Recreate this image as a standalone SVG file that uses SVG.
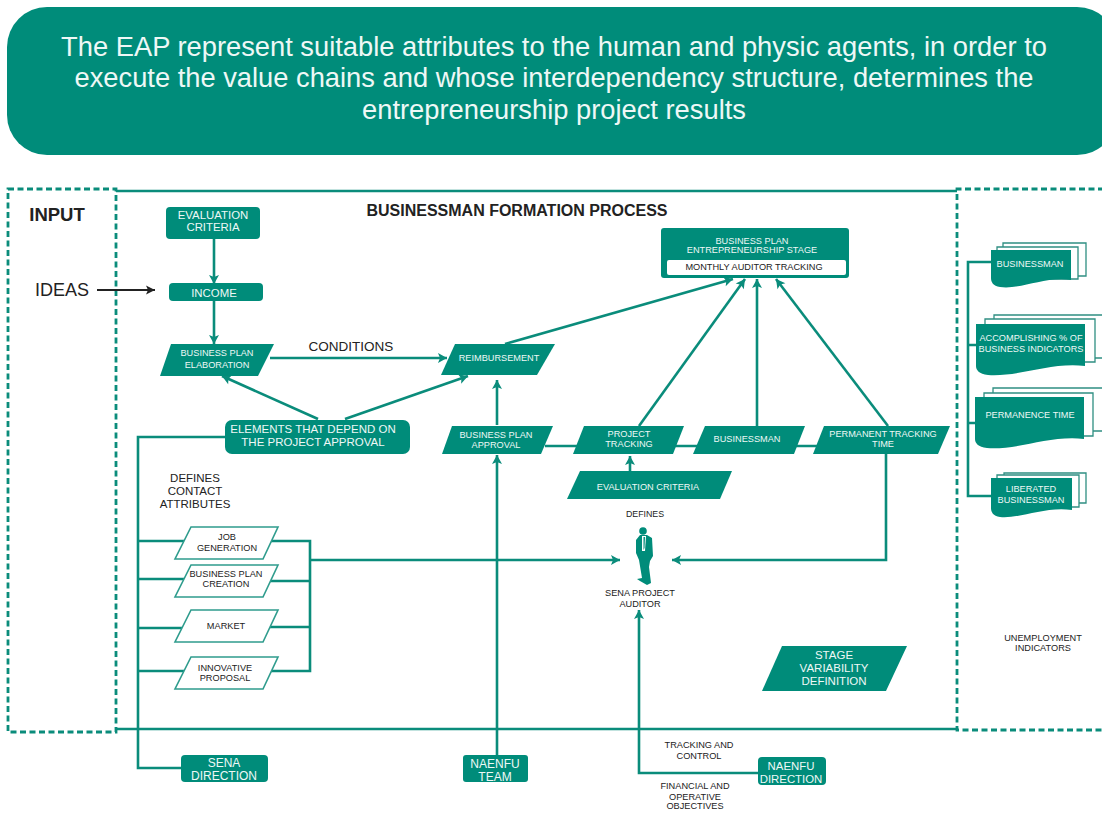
<svg xmlns="http://www.w3.org/2000/svg" width="1102" height="813" viewBox="0 0 1102 813">
<style>
text{font-family:"Liberation Sans",Arial,sans-serif;text-anchor:middle;font-size:9.2px}
.f{fill:#008c7a}
.w{fill:#eef8f6}
.k{fill:#222}
.l{fill:none;stroke:#0a8c7b;stroke-width:2.6}
.d{fill:none;stroke:#0a8c7b;stroke-width:2.8;stroke-dasharray:6 3.5}
.a{marker-end:url(#ah)}
.o{fill:#fff;stroke:#2f9c8d;stroke-width:1.6}
.s{fill:#fff;stroke:#2f8f82;stroke-width:1.3}
.b{font-size:27.3px}
.m{font-size:11.4px}
.n{font-size:12px}
</style>
<defs>
<marker id="ah" markerUnits="userSpaceOnUse" markerWidth="12" markerHeight="12" refX="10" refY="6" orient="auto"><path d="M1 1 L10 6 L1 11 L3 6Z" fill="#0a8c7b"/></marker>
<marker id="bh" markerUnits="userSpaceOnUse" markerWidth="12" markerHeight="12" refX="10" refY="6" orient="auto"><path d="M1 1.5 L10 6 L1 10.5 L3 6Z" fill="#222"/></marker>
</defs>
<rect width="1102" height="813" fill="#fff"/>
<g id="banner">
<rect x="7" y="7" width="1110" height="148" rx="40" class="f"/>
<text x="554" y="56" class="w b">The EAP represent suitable attributes to the human and physic agents, in order to</text>
<text x="554" y="87" class="w b">execute the value chains and whose interdependency structure, determines the</text>
<text x="554" y="119" class="w b">entrepreneurship project results</text>
</g>
<g id="frames">
<rect x="8" y="189" width="108" height="543" class="d"/>
<path d="M116 191H957M116 729H957" class="l"/>
<path d="M1104 189H957V730H1104" class="d"/>
</g>
<g id="connectors">
<path class="l a" d="M214 238V284"/>
<path class="l a" d="M214 301V344"/>
<path d="M97 290H155" fill="none" stroke="#222" stroke-width="2" marker-end="url(#bh)"/>
<path class="l a" d="M270 358H447"/>
<path class="l a" d="M318 419L222 376"/>
<path class="l a" d="M345 419L468 376"/>
<path class="l" d="M226 437H138V768H181"/>
<path class="l" d="M138 541H188M138 579H188M138 628H188M138 671H188"/>
<path class="l" d="M268 541H310V671H268M270 581H310M270 627H310"/>
<path class="l a" d="M310 560H620"/>
<path class="l a" d="M505 344L733 279"/>
<path class="l a" d="M639 426L745 279"/>
<path class="l a" d="M757 426V279"/>
<path class="l a" d="M888 426L776 279"/>
<path class="l a" d="M497 425V380"/>
<path class="l a" d="M497 755V455"/>
<path class="l" d="M545 446H580M675 446H700M795 446H820"/>
<path class="l a" d="M630 471V456"/>
<path class="l a" d="M886 453V560H672"/>
<path class="l a" d="M758 773H639V610"/>
<path class="l" d="M991 262H968V496H991M968 345H976M968 423H975"/>
</g>
<g id="evaluation-criteria">
<rect x="166" y="207" width="94" height="32" rx="4" class="f"/>
<text x="213" y="219" class="w m">EVALUATION</text><text x="213" y="231" class="w m">CRITERIA</text>
</g>
<g id="income">
<rect x="169" y="283" width="94" height="18" rx="4" class="f"/>
<text x="214" y="297" class="w m">INCOME</text>
</g>
<g id="business-plan-elaboration">
<path d="M171 344H274L258 376H160Z" class="f"/>
<text x="217" y="356" class="w">BUSINESS PLAN</text><text x="217" y="368" class="w">ELABORATION</text>
</g>
<g id="reimbursement">
<path d="M455 344H555L537 375H441Z" class="f"/>
<text x="499" y="361" class="w">REIMBURSEMENT</text>
</g>
<g id="elements">
<rect x="225" y="420" width="185" height="34" rx="7" class="f"/>
<text x="313" y="433" font-size="11.5" style="font-size:11.5px" class="w">ELEMENTS THAT DEPEND ON</text><text x="313" y="446" style="font-size:11.5px" class="w">THE PROJECT APPROVAL</text>
</g>
<g id="business-plan-approval">
<path d="M452 426H553L541 454H442Z" class="f"/>
<text x="496" y="438" class="w">BUSINESS PLAN</text><text x="496" y="448" class="w">APPROVAL</text>
</g>
<g id="project-tracking">
<path d="M584 426H684L673 454H573Z" class="f"/>
<text x="629" y="437" class="w">PROJECT</text><text x="629" y="447" class="w">TRACKING</text>
</g>
<g id="businessman">
<path d="M705 426H805L794 454H693Z" class="f"/>
<text x="747" y="442" class="w">BUSINESSMAN</text>
</g>
<g id="permanent-tracking">
<path d="M824 426H950L938 454H813Z" class="f"/>
<text x="883" y="437" class="w">PERMANENT TRACKING</text><text x="883" y="447" class="w">TIME</text>
</g>
<g id="evaluation-criteria-2">
<path d="M580 471H732L720 499H567Z" class="f"/>
<text x="648" y="490" class="w">EVALUATION CRITERIA</text>
</g>
<g id="stage">
<rect x="661" y="228" width="188" height="50" rx="3" class="f"/>
<rect x="667" y="260" width="179" height="15" rx="2" fill="#fff"/>
<text x="752" y="244" class="w">BUSINESS PLAN</text><text x="752" y="253" class="w">ENTREPRENEURSHIP STAGE</text>
<text x="754" y="270" class="k">MONTHLY AUDITOR TRACKING</text>
</g>
<g id="job-generation">
<path d="M191 527H278L263 559H175Z" class="o"/>
<text x="227" y="540" class="k">JOB</text><text x="227" y="551" class="k">GENERATION</text>
</g>
<g id="business-plan-creation">
<path d="M191 565H278L263 597H175Z" class="o"/>
<text x="226" y="577" class="k">BUSINESS PLAN</text><text x="226" y="587" class="k">CREATION</text>
</g>
<g id="market">
<path d="M191 610H278L263 642H175Z" class="o"/>
<text x="226" y="629" class="k">MARKET</text>
</g>
<g id="innovative-proposal">
<path d="M191 657H278L263 689H175Z" class="o"/>
<text x="225" y="671" class="k">INNOVATIVE</text><text x="225" y="681" class="k">PROPOSAL</text>
</g>
<g id="sena-direction">
<rect x="181" y="755" width="87" height="27" rx="4" class="f"/>
<text x="224" y="767" class="w n">SENA</text><text x="224" y="780" class="w n">DIRECTION</text>
</g>
<g id="naenfu-team">
<rect x="463" y="755" width="65" height="27" rx="3" class="f"/>
<text x="495" y="768" class="w n">NAENFU</text><text x="495" y="781" class="w n">TEAM</text>
</g>
<g id="naenfu-direction">
<rect x="758" y="757" width="68" height="28" rx="4" class="f"/>
<text x="791" y="770" class="w m">NAENFU</text><text x="791" y="783" class="w m">DIRECTION</text>
</g>
<g id="stage-variability">
<path d="M782 646H907L886 691H762Z" class="f"/>
<text x="834" y="659" style="font-size:11.5px" class="w">STAGE</text><text x="834" y="672" style="font-size:11.5px" class="w">VARIABILITY</text><text x="834" y="685" style="font-size:11.5px" class="w">DEFINITION</text>
</g>
<g id="auditor">
<circle cx="643" cy="531" r="3.8" class="f"/>
<path d="M640 535L647 535L652 538L653 556L650 561L649 567L651 583L647 585L640 581L637 579L642 578L639 560L636 553L636 540Z" class="f"/>
<path d="M642 536L646 536L645 551L642 551Z" fill="#fff"/>
<path d="M643.5 537L645 537L644.5 548L643.5 550Z" class="f"/>
<text x="640" y="596" class="k">SENA PROJECT</text><text x="640" y="607" class="k">AUDITOR</text>
</g>
<g id="out-businessman">
<path d="M1003 243H1086V276H1003Z" class="s"/><path d="M997 247H1078V279H997Z" class="s"/>
<path d="M991 250H1071V280C1045 276 1020 290 1000 287C993 286 991 282 991 278Z" class="f"/>
<text x="1030" y="267" class="w">BUSINESSMAN</text>
</g>
<g id="out-accomplishing">
<path d="M994 315H1108V358H994Z" class="s"/><path d="M985 319H1095V362H985Z" class="s"/>
<path d="M976 324H1085V366C1050 362 1020 377 988 375C979 374 976 370 976 366Z" class="f"/>
<text x="1031" y="341" class="w">ACCOMPLISHING % OF</text><text x="1031" y="352" class="w">BUSINESS INDICATORS</text>
</g>
<g id="out-permanence">
<path d="M993 388H1108V431H993Z" class="s"/><path d="M984 393H1093V436H984Z" class="s"/>
<path d="M975 397H1084V439C1050 435 1020 450 987 448C978 447 975 443 975 439Z" class="f"/>
<text x="1030" y="418" class="w">PERMANENCE TIME</text>
</g>
<g id="out-liberated">
<path d="M1004 473H1086V503H1004Z" class="s"/><path d="M997 475H1079V507H997Z" class="s"/>
<path d="M991 478H1072V510C1045 506 1020 519 1000 517C993 516 991 512 991 508Z" class="f"/>
<text x="1031" y="492" class="w">LIBERATED</text><text x="1031" y="503" class="w">BUSINESSMAN</text>
</g>
<g id="labels">
<text x="57" y="221" style="font-size:18.5px" font-weight="bold" class="k">INPUT</text>
<text x="517" y="216" style="font-size:16px" font-weight="bold" class="k">BUSINESSMAN FORMATION PROCESS</text>
<text x="62" y="296" style="font-size:18px" class="k">IDEAS</text>
<text x="351" y="351" style="font-size:13.5px" class="k">CONDITIONS</text>
<text x="195" y="482" style="font-size:11.5px" class="k">DEFINES</text><text x="195" y="495" style="font-size:11.5px" class="k">CONTACT</text><text x="195" y="508" style="font-size:11.5px" class="k">ATTRIBUTES</text>
<text x="645" y="517" style="font-size:8.8px" class="k">DEFINES</text>
<text x="699" y="748" class="k">TRACKING AND</text><text x="699" y="759" class="k">CONTROL</text>
<text x="695" y="789" class="k">FINANCIAL AND</text><text x="695" y="800" class="k">OPERATIVE</text><text x="695" y="809" class="k">OBJECTIVES</text>
<text x="1043" y="641" class="k">UNEMPLOYMENT</text><text x="1043" y="651" class="k">INDICATORS</text>
</g>
</svg>
